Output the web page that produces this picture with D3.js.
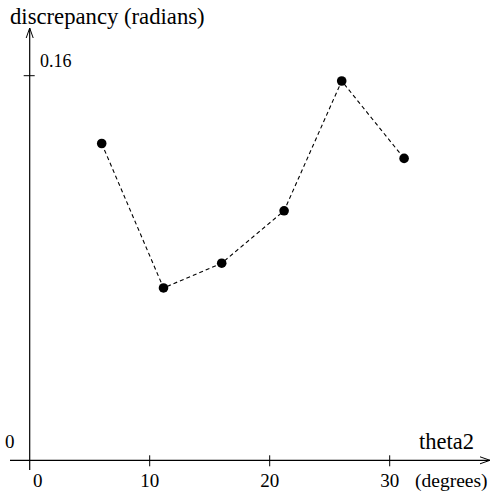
<!DOCTYPE html>
<html><head><meta charset="utf-8">
<script src="https://cdn.jsdelivr.net/npm/d3@7"></script>
<style>html,body{margin:0;padding:0;background:#fff;}svg{display:block;}</style>
</head><body>
<script>
const thetaDeg = [6, 11.15, 16, 21.2, 26, 31.2];
const discrepancy = [0.1318, 0.0717, 0.0820, 0.1038, 0.1578, 0.1256];
const xTicks = [0, 10, 20, 30];
const yTicks = [0.16];

const W = 491, H = 493;
const FONT = "'Liberation Serif', 'Times New Roman', Times, 'DejaVu Serif', serif";
const svg = d3.select("body").append("svg").attr("width", W).attr("height", H)
  .attr("font-family", FONT);
const x = d3.scaleLinear().domain([0, 10]).range([29.7, 149.7]);
const y = d3.scaleLinear().domain([0, 0.16]).range([460.3, 75.7]);

const defs = svg.append("defs");
defs.append("marker").attr("id","arr").attr("viewBox","0 0 10 10").attr("refX",10).attr("refY",5)
  .attr("markerWidth",10).attr("markerHeight",10).attr("markerUnits","userSpaceOnUse").attr("orient","auto")
  .append("path").attr("d","M0,1.5 L10,5 L0,8.5").attr("fill","none").attr("stroke","#000").attr("stroke-width",1);

svg.append("line").attr("x1",10).attr("x2",490).attr("y1",y(0)).attr("y2",y(0))
  .attr("stroke","#000").attr("stroke-width",1.2).attr("marker-end","url(#arr)");
svg.append("line").attr("x1",x(0)).attr("x2",x(0)).attr("y1",470).attr("y2",28)
  .attr("stroke","#000").attr("stroke-width",1.2).attr("marker-end","url(#arr)");

svg.selectAll(".xt").data(xTicks.filter(d=>d>0)).enter().append("line")
  .attr("x1",d=>x(d)).attr("x2",d=>x(d)).attr("y1",y(0)-5).attr("y2",y(0)+6)
  .attr("stroke","#000").attr("stroke-width",1);
svg.selectAll(".xl").data(xTicks).enter().append("text")
  .attr("x",d=>d===0?x(d)+8:x(d)).attr("y",487).attr("text-anchor","middle")
  .attr("font-size",19).text(d=>d);
svg.selectAll(".yt").data(yTicks).enter().append("line")
  .attr("x1",x(0)-6).attr("x2",x(0)+5).attr("y1",d=>y(d)).attr("y2",d=>y(d))
  .attr("stroke","#000").attr("stroke-width",1);
svg.selectAll(".yl").data(yTicks).enter().append("text")
  .attr("x",40).attr("y",d=>y(d)-9).attr("font-size",18).text(d=>d);
svg.append("text").attr("x",5).attr("y",448).attr("font-size",19).text("0");

svg.append("text").attr("x",10).attr("y",24).attr("font-size",22.7).text("discrepancy (radians)");
svg.append("text").attr("x",419).attr("y",449).attr("font-size",22.5).text("theta2");
svg.append("text").attr("x",415).attr("y",487).attr("font-size",19.5).text("(degrees)");

const pts = thetaDeg.map((t,i)=>[t, discrepancy[i]]);
svg.append("path").datum(pts)
  .attr("d", d3.line().x(d=>x(d[0])).y(d=>y(d[1])))
  .attr("fill","none").attr("stroke","#000").attr("stroke-width",1.1).attr("stroke-dasharray","4,3");
svg.selectAll(".pt").data(pts).enter().append("circle")
  .attr("cx",d=>x(d[0])).attr("cy",d=>y(d[1])).attr("r",4.8).attr("fill","#000");
</script>
</body></html>
